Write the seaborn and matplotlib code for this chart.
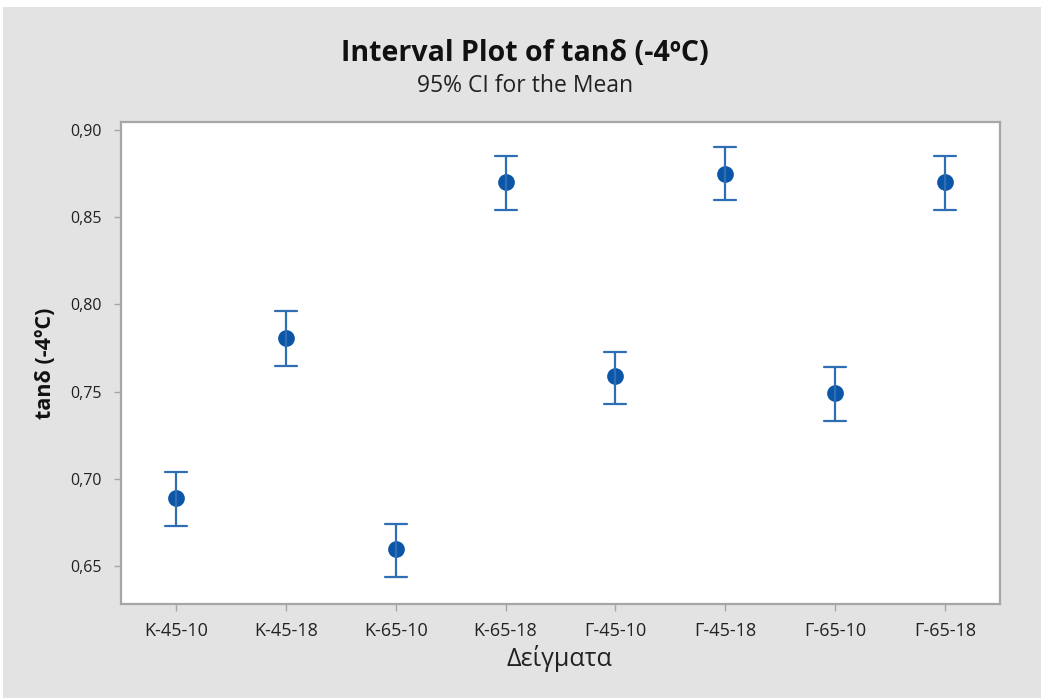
import numpy as np
import pandas as pd
import matplotlib
matplotlib.use("Agg")
import matplotlib.pyplot as plt
import seaborn as sns
from matplotlib.ticker import FuncFormatter
from matplotlib.patches import Rectangle

# data: mean and 95% CI bounds per sample
samples = ["Κ-45-10", "Κ-45-18", "Κ-65-10", "Κ-65-18",
           "Γ-45-10", "Γ-45-18", "Γ-65-10", "Γ-65-18"]
means = [0.689, 0.781, 0.660, 0.870, 0.759, 0.875, 0.749, 0.870]
ci_low = [0.673, 0.765, 0.644, 0.854, 0.743, 0.860, 0.733, 0.854]
ci_high = [0.704, 0.796, 0.674, 0.885, 0.773, 0.890, 0.764, 0.885]
yticks = [0.65, 0.70, 0.75, 0.80, 0.85, 0.90]

# long table: median of (low, mean, high) = mean, full range = CI
rows = []
for s, lo, m, hi in zip(samples, ci_low, means, ci_high):
    for v in (lo, m, hi):
        rows.append({"sample": s, "value": v})
df = pd.DataFrame(rows)

sns.set_style("ticks")
plt.rcParams["font.family"] = ["Open Sans", "DejaVu Sans"]

bg = "#E3E3E3"
blue = "#0B56A6"
edge = "#A6A6A6"

fig = plt.figure(figsize=(10.41, 6.98), dpi=100, facecolor=bg)
fig.patches.append(Rectangle((0, 1 - 7 / 698), 1, 7 / 698, transform=fig.transFigure,
                             facecolor="white", edgecolor="none", zorder=0))
fig.patches.append(Rectangle((0, 0), 3 / 1041, 1, transform=fig.transFigure,
                             facecolor="white", edgecolor="none", zorder=0))
ax = fig.add_axes([0.1162, 0.1347, 0.8444, 0.6905])
ax.set_facecolor("white")

sns.pointplot(data=df, x="sample", y="value", order=samples,
              estimator="median", errorbar=("pi", 100),
              linestyle="none", color=blue, markers="o", markersize=10,
              capsize=0.2, err_kws={"linewidth": 1.6, "color": "#2F6DB5"},
              ax=ax)

ax.set_xlim(-0.5, 7.5)
ax.set_ylim(0.6283, 0.9046)
ax.set_yticks(yticks)
ax.yaxis.set_major_formatter(FuncFormatter(lambda v, p: f"{v:.2f}".replace(".", ",")))

for sp in ax.spines.values():
    sp.set_visible(True)
    sp.set_color(edge)
    sp.set_linewidth(1.6)
ax.tick_params(axis="both", colors=edge, length=5, width=1, labelcolor="#222222")
ax.tick_params(axis="x", pad=8, labelsize=13)
ax.tick_params(axis="y", pad=9, labelsize=11.5)

ax.set_xlabel("")
ax.set_ylabel("")
fig.text(0.537, 0.057, "Δείγματα", ha="center", va="center", fontsize=18, color="#222222")
fig.text(0.044, 0.48, "tanδ (-4ºC)", ha="center", va="center", rotation=90,
         fontsize=15.5, fontweight="bold", color="#111111")
fig.text(0.504, 0.924, "Interval Plot of tanδ (-4ºC)", ha="center", va="center",
         fontsize=20.5, fontweight="bold", color="#111111")
fig.text(0.504, 0.877, "95% CI for the Mean", ha="center", va="center",
         fontsize=16.5, color="#222222")

fig.savefig("out.png", dpi=100, facecolor=bg)
